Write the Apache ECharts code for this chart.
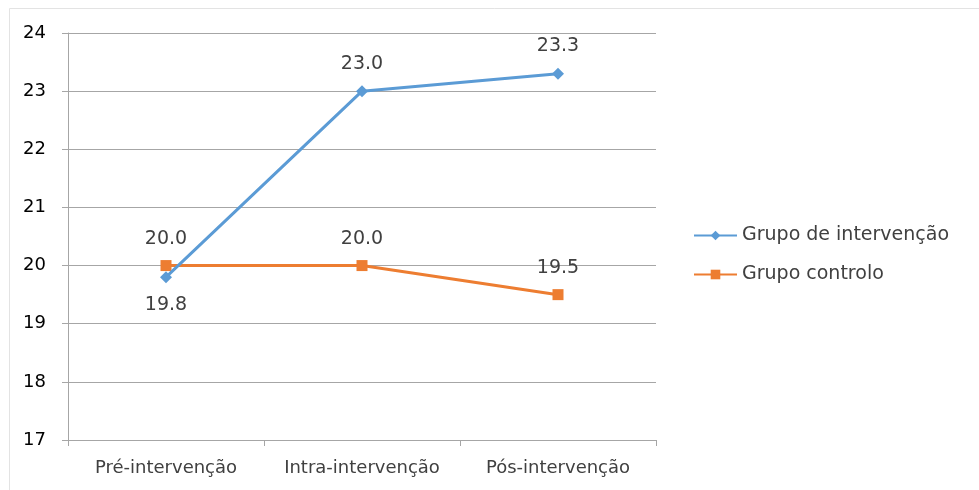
<!DOCTYPE html>
<html>
<head>
<meta charset="utf-8">
<script src="https://cdn.jsdelivr.net/npm/echarts@6/dist/echarts.min.js"></script>
<style>
  html, body { margin: 0; padding: 0; background: #fff; }
  #chart { width: 979px; height: 490px; }
</style>
</head>
<body>
<div id="chart"></div>
<script>
// dados
var categorias = ['Pré-intervenção', 'Intra-intervenção', 'Pós-intervenção'];
var intervencao = [19.8, 23.0, 23.3];
var controlo = [20.0, 20.0, 19.5];
var nomes = ['Grupo de intervenção', 'Grupo controlo'];

var fonte = '"DejaVu Sans", "Noto Sans", sans-serif';
var chart = echarts.init(document.getElementById('chart'));

var rotulo = {
    show: true,
    fontSize: 19,
    fontFamily: fonte,
    color: '#404040',
    distance: 12,
    position: 'top',
    formatter: function (p) { return p.value.toFixed(1); }
};

chart.setOption({
    backgroundColor: '#fff',
    animation: false,
    textStyle: { fontFamily: fonte },
    graphic: [{
        type: 'rect',
        shape: { x: 9.5, y: 8.5, width: 980, height: 500 },
        style: { fill: 'none', stroke: '#e3e3e3', lineWidth: 1 },
        silent: true, z: -1
    }],
    grid: { left: 68, right: 323, top: 33, bottom: 50 },
    legend: {
        orient: 'vertical',
        left: 688,
        top: 221,
        itemWidth: 43,
        itemHeight: 12,
        itemGap: 20,
        data: nomes,
        textStyle: { fontSize: 19, color: '#404040', fontFamily: fonte }
    },
    xAxis: {
        type: 'category',
        data: categorias,
        boundaryGap: true,
        axisLine: { lineStyle: { color: '#a6a6a6', width: 1 } },
        axisTick: { show: true, length: 6, lineStyle: { color: '#a6a6a6' } },
        axisLabel: { interval: 0, fontSize: 18, color: '#404040', margin: 19, fontFamily: fonte }
    },
    yAxis: {
        type: 'value',
        min: 17,
        max: 24,
        interval: 1,
        axisLine: { show: true, lineStyle: { color: '#a6a6a6', width: 1 } },
        axisTick: { show: true, length: 6, lineStyle: { color: '#a6a6a6' } },
        axisLabel: { fontSize: 18, color: '#000', margin: 22, fontFamily: fonte },
        splitLine: { lineStyle: { color: '#a6a6a6', width: 1 } }
    },
    series: [{
        name: nomes[0],
        type: 'line',
        // 19.8 fica abaixo do ponto
        data: intervencao.map(function (v, i) {
            return i === 0 ? { value: v, label: { position: 'bottom' } } : v;
        }),
        symbol: 'diamond',
        symbolSize: 12,
        color: '#5b9bd5',
        lineStyle: { width: 3, color: '#5b9bd5' },
        label: rotulo,
        z: 3
    }, {
        name: nomes[1],
        type: 'line',
        data: controlo,
        symbol: 'rect',
        symbolSize: 11,
        color: '#ed7d31',
        lineStyle: { width: 3, color: '#ed7d31' },
        label: rotulo,
        z: 2
    }]
});
window.onresize = chart.resize;
</script>
</body>
</html>
